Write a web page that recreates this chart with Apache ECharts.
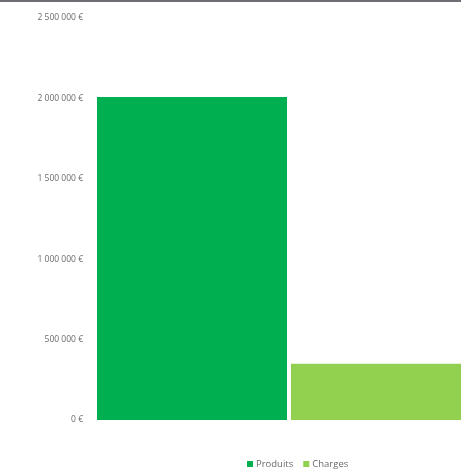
<!DOCTYPE html>
<html>
<head>
<meta charset="UTF-8">
<title>Produits / Charges</title>
<style>
  html, body { margin: 0; padding: 0; background: #fff; overflow: hidden; }
  /* the original chart is cut off on the right, so the canvas is a bit wider than the window */
  #chart { width: 481px; height: 469px; }
</style>
</head>
<body>
<div id="chart"></div>
<script src="https://cdn.jsdelivr.net/npm/echarts@6/dist/echarts.min.js"></script>
<script>
var categories = [''];
var seriesNames = ['Produits', 'Charges'];
var produits = [2008000];
var charges = [350000];
var yTicks = [0, 500000, 1000000, 1500000, 2000000, 2500000];

function euro(v) {
  return String(v).replace(/\B(?=(\d{3})+(?!\d))/g, ' ') + ' €';
}

var chart = echarts.init(document.getElementById('chart'));
chart.setOption({
  animation: false,
  textStyle: { fontFamily: 'Open Sans' },
  grid: { left: 97, right: 0, top: 18, bottom: 49 },
  legend: {
    data: seriesNames,
    left: 242,
    top: 454,
    itemWidth: 6,
    itemHeight: 6,
    itemGap: 10,
    icon: 'rect',
    textStyle: { fontSize: 9.5, color: '#6a6a6a', padding: [0, 0, 0, -2] }
  },
  xAxis: {
    type: 'category',
    data: categories,
    axisLine: { show: false },
    axisTick: { show: false },
    axisLabel: { show: false }
  },
  yAxis: {
    type: 'value',
    min: yTicks[0],
    max: yTicks[yTicks.length - 1],
    interval: 500000,
    axisLine: { show: false },
    axisTick: { show: false },
    splitLine: { show: false },
    axisLabel: { margin: 14, fontSize: 8.5, color: '#6a6a6a', formatter: euro }
  },
  graphic: [{
    type: 'rect',
    left: 0, top: 0,
    shape: { width: 481, height: 2 },
    style: { fill: '#6e6e74' }
  }],
  series: [{
    name: seriesNames[0],
    type: 'bar',
    data: produits,
    barGap: '2.1%',
    barCategoryGap: 0,
    itemStyle: { color: '#00b050' }
  }, {
    name: seriesNames[1],
    type: 'bar',
    data: charges,
    itemStyle: { color: '#92d050' }
  }]
});
</script>
</body>
</html>
